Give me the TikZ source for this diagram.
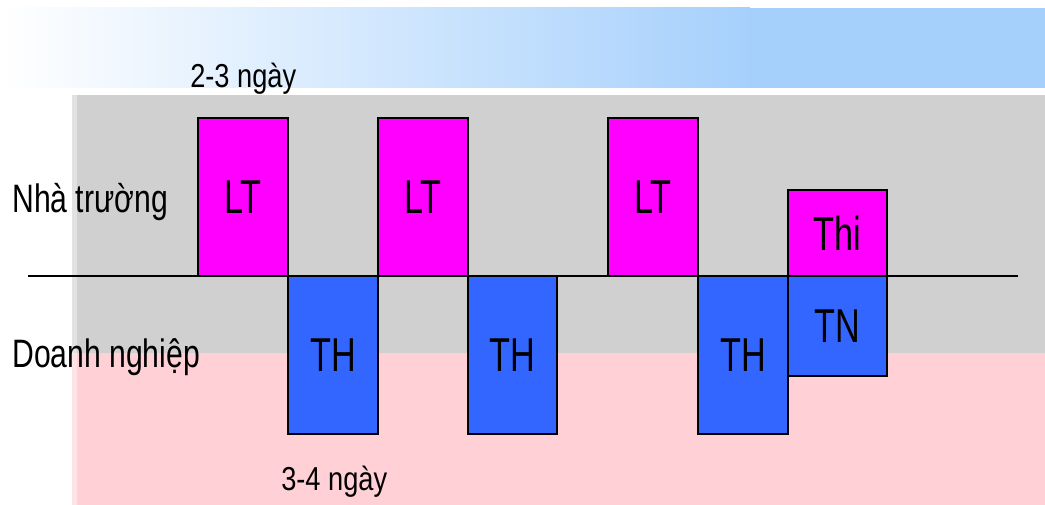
\documentclass[tikz,border=0pt]{standalone}
\usepackage{fontspec}
\setmainfont{Liberation Sans}[FakeStretch=0.82]
\newfontfamily\boxfont{Liberation Sans}[FakeStretch=0.72]
\newfontfamily\sidefont{Liberation Sans}[FakeStretch=0.76]

\definecolor{ltcolor}{HTML}{FF00FF}
\definecolor{thcolor}{HTML}{3366FF}
\definecolor{schoolbg}{HTML}{D0D0D0}
\definecolor{firmbg}{HTML}{FFD0D6}
\definecolor{skyblue}{HTML}{A6D0FC}

\tikzset{
	phase/.style={shape=rectangle, draw=black, line width=0.8pt, inner sep=0pt, outer sep=0pt,
		minimum width=2.25cm, minimum height=3.95cm, font=\boxfont\fontsize{33.8}{36}\selectfont},
	lt/.style={phase, fill=ltcolor},
	th/.style={phase, fill=thcolor},
	side/.style={font=\sidefont\fontsize{28.2}{30}\selectfont, inner sep=0pt, anchor=base west},
	days/.style={font=\fontsize{23.6}{26}\selectfont, inner sep=0pt, anchor=base west}
}

\begin{document}
\begin{tikzpicture}[x=0.025cm, y=-0.025cm]
			\useasboundingbox (0,0) rectangle (1045,505);
			%Backgrounds:
			\shade[left color=white, right color=skyblue] (0,8) rectangle (750,88);
			\fill[skyblue] (750,8) rectangle (1045,88);
			\fill[schoolbg] (72,95) rectangle (1045,353);
			\fill[firmbg] (72,353) rectangle (1045,505);
			\fill[white, opacity=0.4] (72,95) rectangle (77,505);
			%Axis:
			\coordinate (axisL) at (28,276);
			\coordinate (axisR) at (1018,276);
			\draw[line width=0.9pt] (axisL) -- (axisR);
			%Phases:
			\path
				(198,276) node[lt, anchor=south west] (lt1) {LT}
				(288,276) node[th, anchor=north west] (th1) {TH}
				(378,276) node[lt, anchor=south west] (lt2) {LT}
				(468,276) node[th, anchor=north west, minimum width=2.225cm] (th2) {TH}
				(608,276) node[lt, anchor=south west] (lt3) {LT}
				(698,276) node[th, anchor=north west] (th3) {TH}
				(788,276) node[lt, anchor=south west, minimum width=2.475cm, minimum height=2.15cm] (thi) {Thi}
				(788,276) node[th, anchor=north west, minimum width=2.475cm, minimum height=2.5cm] (tn) {TN};
			%Labels:
			\node[side] (school) at (12,212) {Nhà trường};
			\node[side] (firm) at (12,367) {Doanh nghiệp};
			\node[days] (ltdays) at (190,88) {2-3 ngày};
			\node[days] (thdays) at (281,490) {3-4 ngày};
\end{tikzpicture}
\end{document}
